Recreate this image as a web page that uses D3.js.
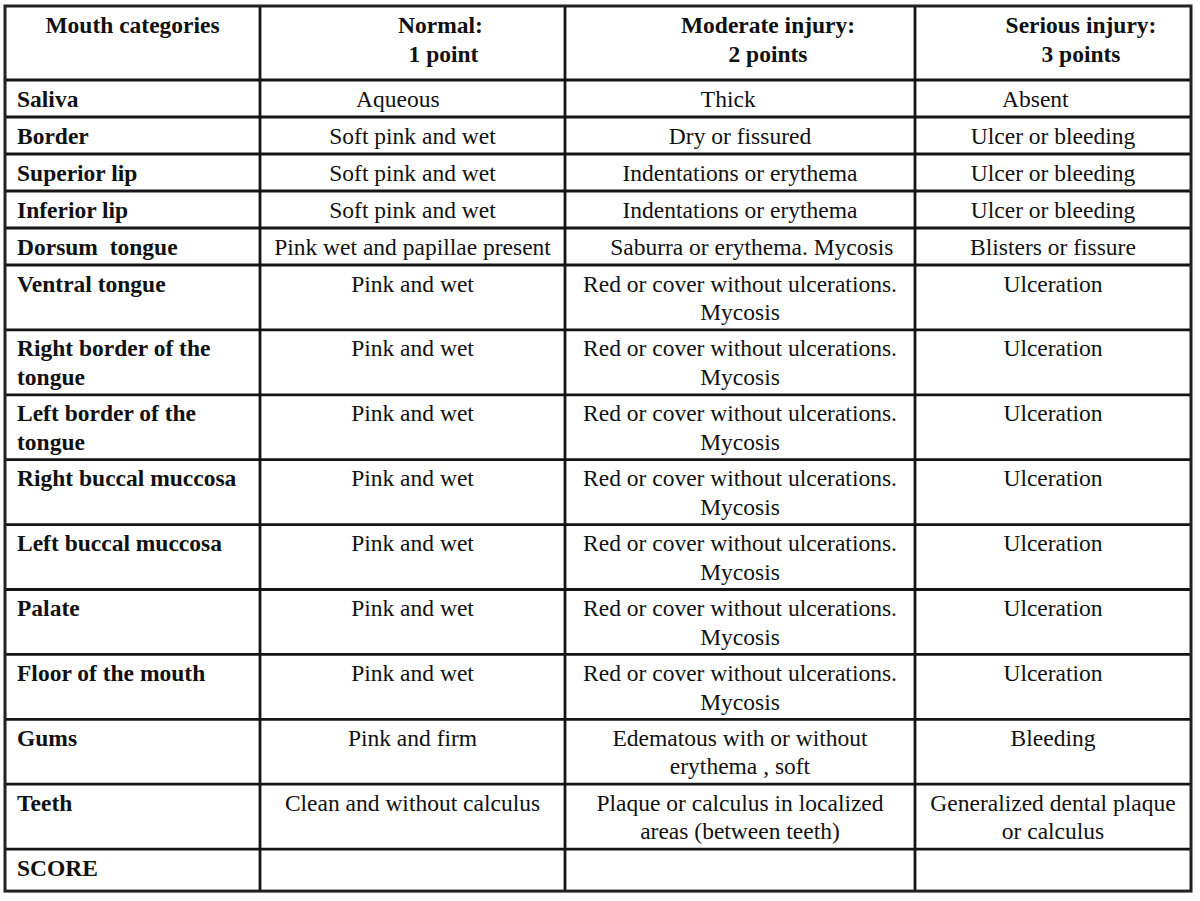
<!DOCTYPE html>
<html>
<head>
<meta charset="utf-8">
<script src="https://cdn.jsdelivr.net/npm/d3@7"></script>
<style>
  html, body { margin: 0; padding: 0; background: #fff; }
  svg text { font-family: "Liberation Serif", "Times New Roman", serif; fill: #111; white-space: pre; }
</style>
</head>
<body>
<svg id="chart" width="1200" height="901"></svg>
<script>
// ---- data ----
const headers = [["Mouth categories"], ["Normal:", " 1 point"], ["Moderate injury:", "2 points"], ["Serious injury:", "3 points"]];
const categories = [
  ["Saliva"], ["Border"], ["Superior lip"], ["Inferior lip"], ["Dorsum  tongue"], ["Ventral tongue"],
  ["Right border of the", "tongue"], ["Left border of the", "tongue"], ["Right buccal muccosa"],
  ["Left buccal muccosa"], ["Palate"], ["Floor of the mouth"], ["Gums"], ["Teeth"], ["SCORE"]
];
const normal = [
  ["Aqueous     "], ["Soft pink and wet"], ["Soft pink and wet"], ["Soft pink and wet"],
  ["Pink wet and papillae present"], ["Pink and wet"], ["Pink and wet"], ["Pink and wet"],
  ["Pink and wet"], ["Pink and wet"], ["Pink and wet"], ["Pink and wet"],
  ["Pink and firm"], ["Clean and without calculus"], [""]
];
const moderate = [
  ["Thick    "], ["Dry or fissured"], ["Indentations or erythema"], ["Indentations or erythema"],
  ["    Saburra or erythema. Mycosis"],
  ["Red or cover without ulcerations.", "Mycosis"], ["Red or cover without ulcerations.", "Mycosis"],
  ["Red or cover without ulcerations.", "Mycosis"], ["Red or cover without ulcerations.", "Mycosis"],
  ["Red or cover without ulcerations.", "Mycosis"], ["Red or cover without ulcerations.", "Mycosis"],
  ["Red or cover without ulcerations.", "Mycosis"],
  ["Edematous with or without", "erythema , soft"],
  ["Plaque or calculus in localized", "areas (between teeth)"], [""]
];
const serious = [
  ["Absent      "], ["Ulcer or bleeding"], ["Ulcer or bleeding"], ["Ulcer or bleeding"],
  ["Blisters or fissure"], ["Ulceration"], ["Ulceration"], ["Ulceration"], ["Ulceration"],
  ["Ulceration"], ["Ulceration"], ["Ulceration"], ["Bleeding"],
  ["Generalized dental plaque", "or calculus"], [""]
];
const columns = ["category", "normal", "moderate", "serious"];

// ---- layout ----
const svg = d3.select("#chart");
const colEdges = [5, 260, 565, 915, 1191];
const x = d3.scaleOrdinal().domain(columns).range(colEdges.slice(0, 4));
const colW = c => colEdges[columns.indexOf(c) + 1] - colEdges[columns.indexOf(c)];

const rows = categories.map((c, i) => ({
  cells: [c, normal[i], moderate[i], serious[i]],
  lines: Math.max(c.length, normal[i].length, moderate[i].length, serious[i].length),
  last: i === categories.length - 1
}));
const rowH = r => r.last ? 42 : (r.lines > 1 ? 64.9 : 37);
const headerH = 74;
let acc = 6 + headerH;
const rowTops = rows.map(r => { const t = acc; acc += rowH(r); return t; });
const tableBottom = acc;
const rowY = d3.scaleOrdinal().domain(d3.range(rows.length)).range(rowTops);

const fs = 23.5, lh = 28.6;

// header text
const hg = svg.append("g");
headers.forEach((lines, ci) => {
  const c = columns[ci];
  const cx = x(c) + colW(c) / 2 + (ci === 0 ? 0 : 28);
  lines.forEach((t, li) => {
    hg.append("text")
      .attr("x", cx).attr("y", 6 + 27 + li * lh)
      .attr("text-anchor", "middle")
      .attr("font-size", fs).attr("font-weight", "bold")
      .text(t);
  });
});

// body text
const bg = svg.append("g");
rows.forEach((r, ri) => {
  r.cells.forEach((lines, ci) => {
    const c = columns[ci];
    lines.forEach((t, li) => {
      if (!t) return;
      const txt = bg.append("text")
        .attr("y", rowY(ri) + 26.5 + li * lh)
        .attr("font-size", fs)
        .text(t);
      if (ci === 0) {
        txt.attr("x", x(c) + 12).attr("font-weight", "bold");
      } else {
        txt.attr("x", x(c) + colW(c) / 2).attr("text-anchor", "middle");
      }
    });
  });
});

// grid lines
const lg = svg.append("g").attr("stroke", "#151515").attr("stroke-width", 2.8).attr("fill", "none");
const hLines = [6 + headerH].concat(rowTops.slice(1));
hLines.forEach(yy => lg.append("line").attr("x1", colEdges[0]).attr("x2", colEdges[4]).attr("y1", yy).attr("y2", yy));
colEdges.slice(1, 4).forEach(xx => lg.append("line").attr("x1", xx).attr("x2", xx).attr("y1", 6).attr("y2", tableBottom));
lg.append("rect").attr("x", colEdges[0]).attr("y", 6).attr("width", colEdges[4] - colEdges[0]).attr("height", tableBottom - 6)
  .attr("stroke", "#222").attr("stroke-width", 3);
</script>
</body>
</html>
